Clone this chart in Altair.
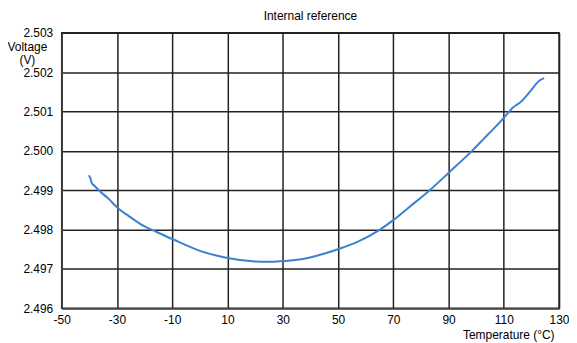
import altair as alt
import pandas as pd

temperature = [-40.2, -39.6, -39.2, -38.0, -36.6, -33.0, -30.0, -25.0, -20.0, -17.5,
               -10.0, 0.0, 10.0, 20.0, 25.0, 30.0, 36.0, 42.0, 50.0, 57.4,
               65.2, 70.0, 75.4, 83.2, 90.0, 98.5, 102.4, 110.0, 112.0, 113.3,
               114.5, 116.2, 120.0, 122.8, 124.6]
voltage = [2.49938, 2.49930, 2.49920, 2.49910, 2.49900, 2.49878, 2.49857, 2.49831, 2.49808, 2.49800,
           2.49776, 2.49746, 2.49728, 2.49719, 2.49718, 2.49720, 2.49724, 2.49733, 2.49750, 2.49770,
           2.49800, 2.49824, 2.49855, 2.49900, 2.49944, 2.50000, 2.50028, 2.50084, 2.50100, 2.50110,
           2.50116, 2.50125, 2.50155, 2.50178, 2.50185]

x_ticks = [-50, -30, -10, 10, 30, 50, 70, 90, 110, 130]
y_ticks = [2.496, 2.497, 2.498, 2.499, 2.500, 2.501, 2.502, 2.503]

df = pd.DataFrame({"T": temperature, "V": voltage})

FONT = "Liberation Sans"

chart = alt.Chart(df).mark_line(color="#3c80d2", strokeWidth=2, interpolate="monotone").encode(
    x=alt.X("T:Q", scale=alt.Scale(domain=[-50, 130], nice=False),
            axis=alt.Axis(values=x_ticks, title="Temperature (°C)",
                          labelExpr="'' + datum.value", labelFlush=False,
                          ticks=False, labelPadding=6, titleAlign="right",
                          titleX=495, titleY=26, titleBaseline="middle",
                          titleFontWeight="normal", titleFontSize=12)),
    y=alt.Y("V:Q", scale=alt.Scale(domain=[2.496, 2.503], nice=False, zero=False),
            axis=alt.Axis(values=y_ticks, format=".3f", title=["Voltage", "(V)"],
                          labelFlush=False,
                          ticks=False, labelPadding=9, titleAngle=0, titleAlign="center",
                          titleX=-35, titleY=8.5, titleBaseline="top", titleLineHeight=13,
                          titleFontWeight="normal", titleFontSize=12)),
).properties(
    width=500, height=277,
    title=alt.TitleParams("Internal reference", fontSize=12, fontWeight="normal",
                          font=FONT, color="#000", offset=4, anchor="middle"),
    autosize=alt.AutoSizeParams(type="none"),
    padding={"left": 54, "top": 24, "right": 10, "bottom": 40},
).configure_view(
    stroke="#222", strokeWidth=1.5
).configure_axis(
    grid=True, gridColor="#222", gridWidth=1.5, domainColor="#444", domainWidth=1.5,
    labelFont=FONT, titleFont=FONT, labelFontSize=12, labelColor="#000", titleColor="#000",
)

chart.save("out.html", embed_options={"renderer": "svg", "actions": False})
